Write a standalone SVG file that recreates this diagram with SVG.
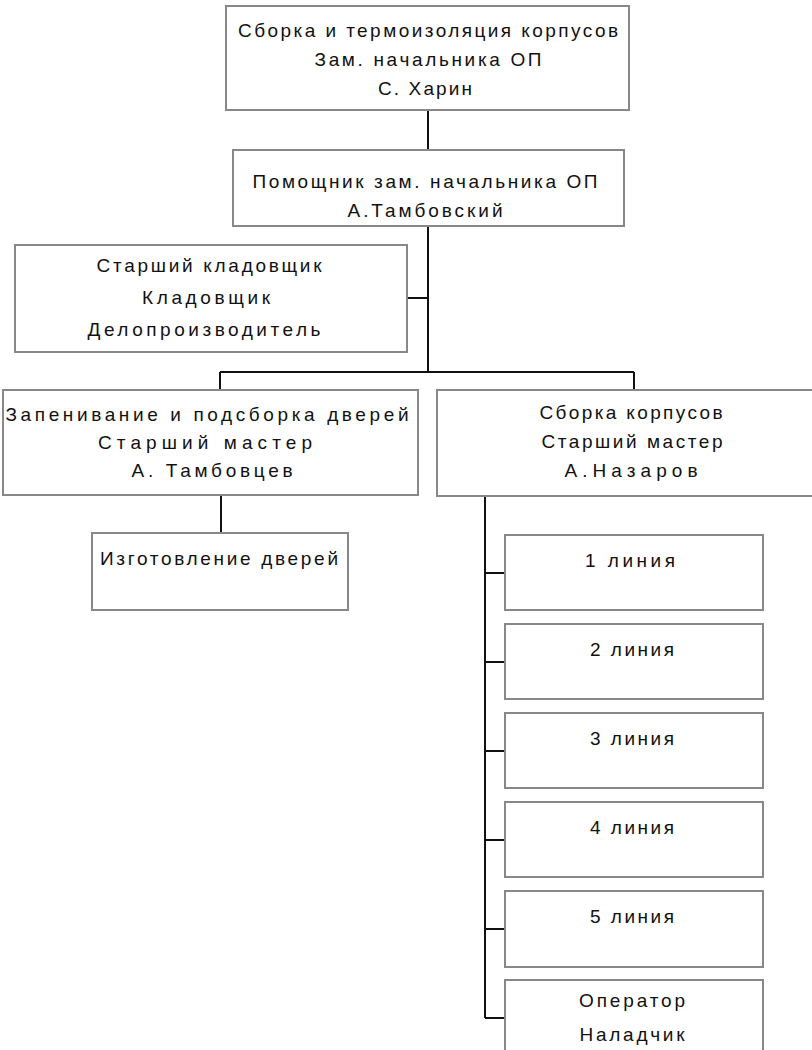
<svg xmlns="http://www.w3.org/2000/svg" width="812" height="1050" viewBox="0 0 812 1050">
<style>
.box{fill:#fff;stroke:#888;stroke-width:2}
.c{fill:none;stroke:#111;stroke-width:2}
text{font-family:"Liberation Sans",Arial,sans-serif;font-size:19px;fill:#111;text-anchor:middle}
</style>
<rect width="812" height="1050" fill="#fff"/>
<g id="connectors">
<path class="c" d="M428 110V150M428 226V372M408 298H428M220 372H634M220 372V390M634 372V390M221 495V533M485 496V1018M485 573H505M485 662H505M485 751H505M485 840H505M485 929H505M485 1018H505"/>
</g>
<g id="n1"><rect class="box" x="226" y="6" width="403" height="104"/>
<text x="428" y="37" textLength="380" lengthAdjust="spacing">Сборка и термоизоляция корпусов</text>
<text x="428" y="66" textLength="227" lengthAdjust="spacing">Зам. начальника ОП</text>
<text x="425" y="95" textLength="94" lengthAdjust="spacing">С. Харин</text></g>
<g id="n2"><rect class="box" x="233" y="150" width="391" height="76"/>
<text x="425" y="188" textLength="345" lengthAdjust="spacing">Помощник зам. начальника ОП</text>
<text x="425" y="217" textLength="155" lengthAdjust="spacing">А.Тамбовский</text></g>
<g id="n3"><rect class="box" x="15" y="245" width="392" height="107"/>
<text x="209" y="272" textLength="225" lengthAdjust="spacing">Старший кладовщик</text>
<text x="206" y="304" textLength="128" lengthAdjust="spacing">Кладовщик</text>
<text x="204" y="336" textLength="233" lengthAdjust="spacing">Делопроизводитель</text></g>
<g id="n4"><rect class="box" x="3" y="390" width="415" height="105"/>
<text x="207" y="421" textLength="403" lengthAdjust="spacing">Запенивание и подсборка дверей</text>
<text x="205" y="449" textLength="214" lengthAdjust="spacing">Старший мастер</text>
<text x="212" y="477" textLength="161" lengthAdjust="spacing">А. Тамбовцев</text></g>
<g id="n5"><rect class="box" x="437" y="390" width="380" height="106"/>
<text x="631" y="419" textLength="183" lengthAdjust="spacing">Сборка корпусов</text>
<text x="632" y="448" textLength="181" lengthAdjust="spacing">Старший мастер</text>
<text x="631" y="477" textLength="133" lengthAdjust="spacing">А.Назаров</text></g>
<g id="n6"><rect class="box" x="92" y="533" width="256" height="77"/>
<text x="219" y="565" textLength="238" lengthAdjust="spacing">Изготовление дверей</text></g>
<g id="n7"><rect class="box" x="505" y="535" width="258" height="75"/>
<text x="630" y="567" textLength="90" lengthAdjust="spacing">1 линия</text></g>
<g id="n8"><rect class="box" x="505" y="624" width="258" height="75"/>
<text x="632" y="656" textLength="84" lengthAdjust="spacing">2 линия</text></g>
<g id="n9"><rect class="box" x="505" y="713" width="258" height="75"/>
<text x="632" y="745" textLength="84" lengthAdjust="spacing">3 линия</text></g>
<g id="n10"><rect class="box" x="505" y="802" width="258" height="75"/>
<text x="632" y="834" textLength="84" lengthAdjust="spacing">4 линия</text></g>
<g id="n11"><rect class="box" x="505" y="891" width="258" height="76"/>
<text x="632" y="923" textLength="84" lengthAdjust="spacing">5 линия</text></g>
<g id="n12"><rect class="box" x="505" y="980" width="258" height="90"/>
<text x="632" y="1007" textLength="106" lengthAdjust="spacing">Оператор</text>
<text x="632" y="1041" textLength="105" lengthAdjust="spacing">Наладчик</text></g>
</svg>
